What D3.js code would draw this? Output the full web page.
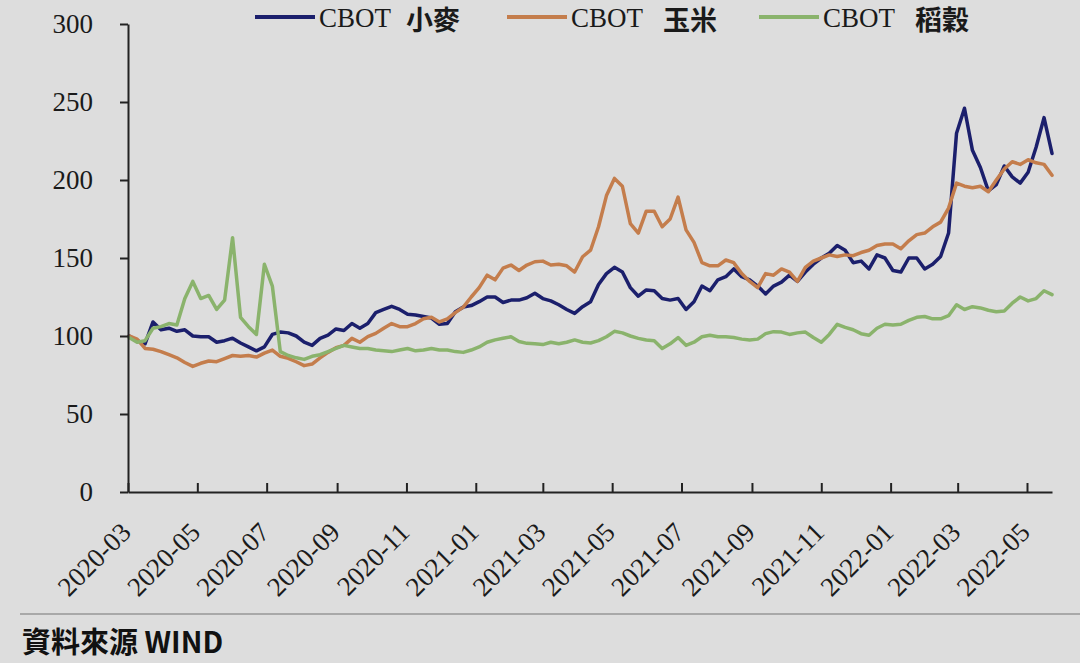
<!DOCTYPE html>
<html><head><meta charset="utf-8">
<script src="https://cdn.jsdelivr.net/npm/d3@7"></script>
<style>
html,body{margin:0;padding:0;background:#dddddd;}
svg{display:block;}
</style></head>
<body>
<svg id="chart" width="1080" height="663"></svg>
<script>
// ---- data ----
const dates = [
"2020-03-02","2020-03-09","2020-03-16","2020-03-23","2020-03-30","2020-04-06","2020-04-13","2020-04-20","2020-04-27",
"2020-05-04","2020-05-11","2020-05-18","2020-05-25","2020-06-01","2020-06-08","2020-06-15","2020-06-22","2020-06-29",
"2020-07-06","2020-07-13","2020-07-20","2020-07-27","2020-08-03","2020-08-10","2020-08-17","2020-08-24","2020-08-31",
"2020-09-07","2020-09-14","2020-09-21","2020-09-28","2020-10-05","2020-10-12","2020-10-19","2020-10-26",
"2020-11-02","2020-11-09","2020-11-16","2020-11-23","2020-11-30","2020-12-07","2020-12-14","2020-12-21","2020-12-28",
"2021-01-04","2021-01-11","2021-01-18","2021-01-25","2021-02-01","2021-02-08","2021-02-15","2021-02-22",
"2021-03-01","2021-03-08","2021-03-15","2021-03-22","2021-03-29","2021-04-05","2021-04-12","2021-04-19","2021-04-26",
"2021-05-03","2021-05-10","2021-05-17","2021-05-24","2021-05-31","2021-06-07","2021-06-14","2021-06-21","2021-06-28",
"2021-07-05","2021-07-12","2021-07-19","2021-07-26","2021-08-02","2021-08-09","2021-08-16","2021-08-23","2021-08-30",
"2021-09-06","2021-09-13","2021-09-20","2021-09-27","2021-10-04","2021-10-11","2021-10-18","2021-10-25",
"2021-11-01","2021-11-08","2021-11-15","2021-11-22","2021-11-29","2021-12-06","2021-12-13","2021-12-20","2021-12-27",
"2022-01-03","2022-01-10","2022-01-17","2022-01-24","2022-01-31","2022-02-07","2022-02-14","2022-02-21","2022-02-28",
"2022-03-07","2022-03-14","2022-03-21","2022-03-28","2022-04-04","2022-04-11","2022-04-18","2022-04-25",
"2022-05-02","2022-05-09","2022-05-16","2022-05-23"
];
const wheat = [
100,97,95,109,104,105,103,104,100,99.5,
99.5,96,97,98.6,95.5,93,90.5,93,101,102.5,
102,100,96,94,98.5,100.6,104.5,103.5,108,105,
108,115,117,119,117,114,113.5,112.5,111.5,107.5,
108,115.6,118.5,119.5,122,125,125,121.5,123,123,
124.5,127.4,124,122.5,120,117,114.5,118.8,122,133,
140,144,141,131,125.5,129.5,129,124,123,124,
117,122,132,129,136,138,143,138,136,132,
127,132,134.5,139,135,141,146,150,153,158,
155,147,148,143,152,150,142,141,150,150,
143,146,151,166,230,246,219,208,193,197,
209,202,198,205,221,240,217
];
const corn = [
100,98,92,91.5,90,88,86,83,80.5,82.5,
84,83.5,85.5,87.5,87,87.5,86.5,89,91,87,
85.7,83.5,81,82,86,89.5,92.5,94,98.5,96,
99.6,101.7,105,108,106,106,108,111,112,109,
111,115,118.5,125,131,139,136,143.5,145.5,142,
145.5,147.6,148,145.5,146,145,141,150.8,155,170,
190,201,196,172,166,180,180,170,175,189,
168,160,147,145,145,148.7,147,140,135,131,
140,139,143,141,135,144,148,150,152,151,
152,151.5,153.5,155,158,159,159,156,161,165,
166,170,173,182,198,196,195,196,192.5,200,
207,211.7,210,213,211,210,203
];
const rice = [
99,96,97,105,106,108,107,124,135,124,
126,117,123,163,112,106,101,146,132,90,
87.5,86,85,87,88,90,92,94,93,92,
92,91,90.5,90,91,92,90.5,91,92,91,
91,90,89.5,91,93,96,97.5,98.5,99.5,96.5,
95.3,95,94.5,96,95,96,97.5,96,95.5,97,
99.5,103,102,100,98.5,97.4,97,92,95,99,
94,96,99.5,100.5,99.5,99.5,99,98,97.5,98,
101.5,102.8,102.5,101,102,102.5,99,96,101,107.5,
105.5,104,101.5,100.5,105,107.5,107,107.5,110,112,
112.5,111,111,113,120,117,118.8,118,116.5,115.5,
116,121,125,122.5,124,129,126.5
];
const seriesPrefix = "CBOT";
const seriesNames = ["小麥", "玉米", "稻穀"];
const yTicks = [0, 50, 100, 150, 200, 250, 300];
const xTickLabels = ["2020-03","2020-05","2020-07","2020-09","2020-11","2021-01","2021-03",
                     "2021-05","2021-07","2021-09","2021-11","2022-01","2022-03","2022-05"];
const sourceText = "資料來源 WIND";

// ---- drawing ----
const W = 1080, H = 663;
const colors = ["#1b1f6c", "#c47d4c", "#8ab36c"];
const serif = "'Liberation Serif','Times New Roman',serif";
const cjk = "'Noto Sans CJK TC','Noto Sans CJK SC',sans-serif";
const parse = d3.timeParse("%Y-%m-%d");
const parseM = d3.timeParse("%Y-%m");

const x = d3.scaleTime().domain([parse("2020-03-01"), parse("2022-05-23")]).range([128, 1052]);
const y = d3.scaleLinear().domain([0, 300]).range([492, 24]);

const svg = d3.select("#chart");
svg.append("rect").attr("width", W).attr("height", H).attr("fill", "#dddddd");

// series
const seriesData = [wheat, corn, rice];
const line = d3.line().x((d, i) => x(parse(dates[i]))).y(d => y(d));
seriesData.forEach((vals, k) => {
  svg.append("path")
    .datum(vals)
    .attr("d", line)
    .attr("fill", "none")
    .attr("stroke", colors[k])
    .attr("stroke-width", 3.5)
    .attr("stroke-linejoin", "round")
    .attr("stroke-linecap", "round");
});

// y axis
const gy = svg.append("g").attr("transform", "translate(128,0)")
  .call(d3.axisLeft(y).tickValues(yTicks).tickSizeInner(8).tickSizeOuter(0).tickPadding(27));
gy.select(".domain").attr("stroke", "#222").attr("stroke-width", 2);
gy.selectAll(".tick line").attr("stroke", "#222").attr("stroke-width", 2);
gy.selectAll(".tick text").attr("font-family", serif).attr("font-size", 27).attr("fill", "#1a1a1a");

// x axis
const gx = svg.append("g").attr("transform", "translate(0,492)")
  .call(d3.axisBottom(x).tickValues(xTickLabels.map(parseM)).tickSizeInner(-9).tickSizeOuter(0)
    .tickFormat(d3.timeFormat("%Y-%m")));
gx.select(".domain").attr("stroke", "#222").attr("stroke-width", 2);
gx.selectAll(".tick line").attr("stroke", "#222").attr("stroke-width", 2);
gx.selectAll(".tick text")
  .attr("font-family", serif).attr("font-size", 27).attr("fill", "#1a1a1a")
  .attr("x", 0).attr("y", 0).attr("dy", 0)
  .attr("text-anchor", "end")
  .attr("transform", "translate(4,42) rotate(-45)");
svg.selectAll(".domain").raise();

// legend
const legend = svg.append("g");
seriesNames.forEach((name, k) => {
  const g = legend.append("g").attr("transform", `translate(${255 + k * 252},17)`);
  g.append("line").attr("x1", 0).attr("x2", 60).attr("y1", 0).attr("y2", 0)
    .attr("stroke", colors[k]).attr("stroke-width", 4);
  const t = g.append("text").attr("x", 64).attr("y", 10).attr("fill", "#1a1a1a");
  t.append("tspan").attr("font-family", serif).attr("font-size", 27).text(seriesPrefix);
  t.append("tspan").attr("dx", k === 0 ? 15 : 20).attr("dy", 3)
    .attr("font-family", cjk).attr("font-weight", "bold").attr("font-size", 27).text(name);
});

// footer
svg.append("line").attr("x1", 20).attr("x2", 1080).attr("y1", 614).attr("y2", 614)
  .attr("stroke", "#a8a8a8").attr("stroke-width", 2);
svg.append("text").attr("x", 22).attr("y", 653)
  .attr("font-family", cjk).attr("font-weight", "bold").attr("font-size", 29)
  .attr("fill", "#111").text(sourceText);
</script>
</body></html>
